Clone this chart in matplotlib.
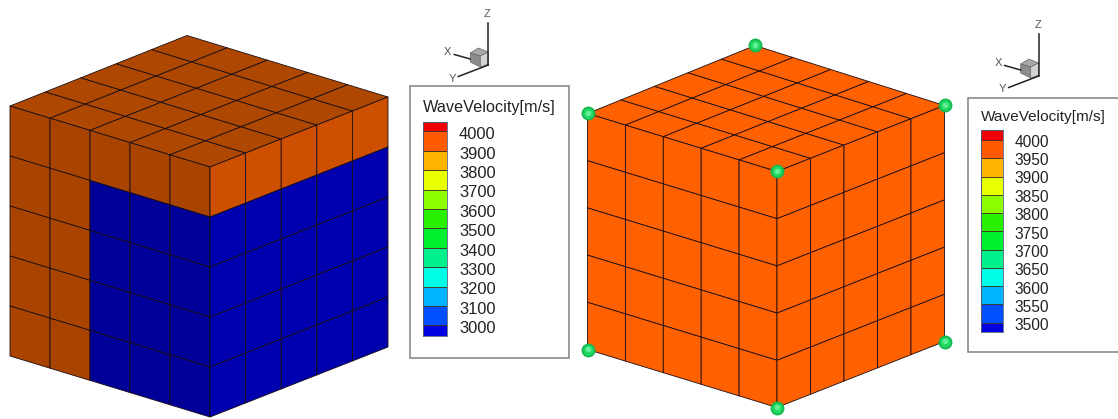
import numpy as np
import matplotlib
matplotlib.use('Agg')
import matplotlib.pyplot as plt
from matplotlib.collections import PolyCollection
from matplotlib.patches import Rectangle, Polygon

plt.rcParams['font.family'] = ['Liberation Sans', 'DejaVu Sans']

W, H = 1118, 419

# legend levels and band colours (top band first)
left_levels = [4000, 3900, 3800, 3700, 3600, 3500, 3400, 3300, 3200, 3100, 3000]
right_levels = [4000, 3950, 3900, 3850, 3800, 3750, 3700, 3650, 3600, 3550, 3500]
band_colors = ['#F00000', '#FF5A00', '#FFB400', '#E8FF00', '#8CFF00', '#28F000',
               '#00F030', '#00F08C', '#00FFE6', '#00B4FF', '#0050FF', '#0000E0']
legend_title = 'WaveVelocity[m/s]'

# cell values of the left model, rows from top, columns from the outer edge
left_side_values = [
    [3900, 3900, 3900, 3900, 3900],
    [3900, 3900, 3000, 3000, 3000],
    [3900, 3900, 3000, 3000, 3000],
    [3900, 3900, 3000, 3000, 3000],
    [3900, 3900, 3000, 3000, 3000],
]
right_side_values = [
    [3900, 3900, 3900, 3900, 3900],
    [3000, 3000, 3000, 3000, 3000],
    [3000, 3000, 3000, 3000, 3000],
    [3000, 3000, 3000, 3000, 3000],
    [3000, 3000, 3000, 3000, 3000],
]
top_values = [[3900] * 5] * 5
uniform_values = [[3900] * 5] * 5

# cube corners in image pixels
left_cube = dict(back=(187, 35.5), left=(10, 106), right=(388, 97), front=(210, 167),
                 bottom_left=(10, 356), bottom_right=(388, 347), bottom=(210, 417))
right_cube = dict(back=(755, 45.5), left=(587.5, 113.5), right=(944.5, 105.5), front=(777, 171.5),
                  bottom_left=(587.5, 349.5), bottom_right=(944.5, 341.5), bottom=(777, 407.5))

left_shades = {'top': {3900: '#AE4800'},
               'side': {3900: '#A84400', 3000: '#000098'},
               'other': {3900: '#CC5000', 3000: '#0000AE'}}
right_shades = {'top': {3900: '#FF6000'},
                'side': {3900: '#FF6000'},
                'other': {3900: '#FF6000'}}


def face_mesh(tl, tr, br, bl, values, shades, ax):
    # bilinear cells between the four corners of one face
    tl, tr, br, bl = map(np.array, (tl, tr, br, bl))
    n_rows, n_cols = np.shape(values)
    polys, colors = [], []

    def pt(r, c):
        u, v = c / n_cols, r / n_rows
        return (1 - v) * ((1 - u) * tl + u * tr) + v * ((1 - u) * bl + u * br)

    for r in range(n_rows):
        for c in range(n_cols):
            polys.append([pt(r, c), pt(r, c + 1), pt(r + 1, c + 1), pt(r + 1, c)])
            colors.append(shades[values[r][c]])
    ax.add_collection(PolyCollection(polys, facecolors=colors, edgecolors='#1a0c14',
                                     linewidths=0.6, zorder=2))


def draw_cube(c, side, other, top, shades, ax):
    face_mesh(c['left'], c['back'], c['right'], c['front'], top, shades['top'], ax)
    face_mesh(c['left'], c['front'], c['bottom'], c['bottom_left'], side, shades['side'], ax)
    face_mesh(c['front'], c['right'], c['bottom_right'], c['bottom'], other, shades['other'], ax)


def draw_legend(fig, ax, box, title_xy, bar, label_x, label_ys, levels, colors, title_size, label_size):
    x0, y0, x1, y1 = box
    ax.add_patch(Rectangle((x0, y0), x1 - x0, y1 - y0, fc='white', ec='#808080', lw=1.1, zorder=1))
    ax.text(title_xy[0], title_xy[1], legend_title, fontsize=title_size, color='#222222',
            ha='left', va='center')
    bx0, bx1, by_top, by_4000, by_last, by_bottom = bar
    per_px = (levels[0] - levels[-1]) / (by_last - by_4000)
    vmax = levels[0] + (by_4000 - by_top) * per_px
    vmin = levels[-1] - (by_bottom - by_last) * per_px
    cax = fig.add_axes([bx0 / W, 1 - by_bottom / H, (bx1 - bx0) / W, (by_bottom - by_top) / H])
    edges = [vmin] + levels[::-1] + [vmax]
    for lo, hi, col in zip(edges[:-1], edges[1:], colors[::-1]):
        cax.barh(lo, 1, height=hi - lo, align='edge', color=col, edgecolor='#403020', linewidth=0.6)
    cax.set_xlim(0, 1)
    cax.set_ylim(vmin, vmax)
    cax.set_xticks([])
    cax.set_yticks([])
    for s in cax.spines.values():
        s.set_edgecolor('#506080')
        s.set_linewidth(0.6)
    for v, y in zip(levels, np.linspace(label_ys[0], label_ys[1], len(levels))):
        ax.text(label_x, y, str(v), fontsize=label_size, color='#222222', ha='left', va='center')


def draw_triad(ax, ox, oy):
    # ox, oy is the foot of the Z axis
    def p(dx, dy):
        return (ox + dx, oy + dy)
    ax.add_patch(Polygon([p(-18, -12), p(-10, -17), p(0, -13), p(-8, -9)], fc='#a8a8a8', ec='#666666', lw=0.5, zorder=3))
    ax.add_patch(Polygon([p(-18, -12), p(-8, -9), p(-8, 2), p(-18, -3)], fc='#8c8c8c', ec='#666666', lw=0.5, zorder=3))
    ax.add_patch(Polygon([p(-8, -9), p(0, -13), p(0, -1), p(-8, 2)], fc='#d4d4d4', ec='#666666', lw=0.5, zorder=3))
    ax.plot([ox, ox], [oy - 42, oy], color='#222222', lw=1.1, zorder=4)
    ax.plot([ox - 34, ox - 18], [oy - 10.5, oy - 6], color='#222222', lw=1.1, zorder=4)
    ax.plot([ox - 30, ox], [oy + 11.5, oy], color='#222222', lw=1.1, zorder=4)
    ax.text(ox - 1, oy - 51, 'Z', fontsize=8, color='#555555', ha='center', va='center')
    ax.text(ox - 40.5, oy - 13, 'X', fontsize=8, color='#555555', ha='center', va='center')
    ax.text(ox - 36, oy + 13.5, 'Y', fontsize=8, color='#555555', ha='center', va='center')


fig = plt.figure(figsize=(W / 100, H / 100), dpi=100)
ax = fig.add_axes([0, 0, 1, 1])
ax.set_xlim(0, W)
ax.set_ylim(H, 0)
ax.axis('off')

draw_cube(left_cube, left_side_values, right_side_values, top_values, left_shades, ax)
draw_cube(right_cube, uniform_values, uniform_values, uniform_values, right_shades, ax)

# green corner handles of the right model
for name in ['back', 'left', 'right', 'front', 'bottom_left', 'bottom_right', 'bottom']:
    x, y = right_cube[name]
    ax.scatter([x], [y], s=100, color='#12B850', zorder=5, linewidths=0)
    ax.scatter([x], [y], s=56, color='#22D860', zorder=6, linewidths=0)
    ax.scatter([x], [y - 0.5], s=16, color='#60F098', zorder=7, linewidths=0)

draw_legend(fig, ax, (409.5, 86.5, 569, 357.5), (423, 107), (422.7, 447, 121.7, 131.5, 325.3, 336),
            459, (134.7, 328.7), left_levels, band_colors, 11.7, 11.9)
draw_legend(fig, ax, (967.5, 97.5, 1125, 351.5), (980.7, 117.3), (980.7, 1003.3, 130, 140, 322.7, 332.3),
            1014.7, (142.3, 325.7), right_levels, band_colors, 11.1, 11.2)
draw_triad(ax, 488.3, 65)
draw_triad(ax, 1038.7, 76)

fig.savefig('out.png', dpi=100)
